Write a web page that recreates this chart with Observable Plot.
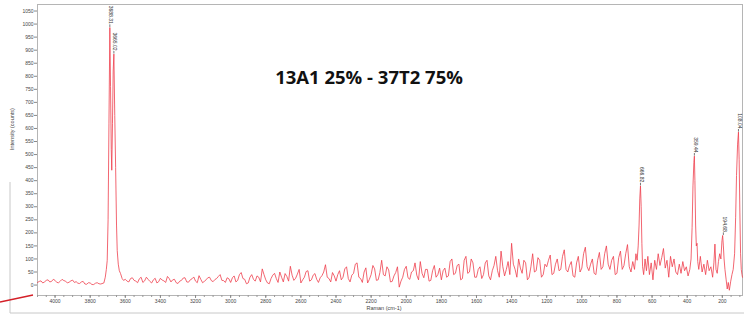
<!DOCTYPE html>
<html><head><meta charset="utf-8">
<script src="https://cdn.jsdelivr.net/npm/d3@7"></script>
<script src="https://cdn.jsdelivr.net/npm/@observablehq/plot@0.6"></script>
<style>body{margin:0;background:#fff;} #chart{position:relative;width:744px;height:320px;overflow:hidden;} svg{overflow:visible}</style>
</head><body><div id="chart"></div>
<script>
const title = "13A1 25% - 37T2 75%";
const xLabel = "Raman (cm-1)";
const yLabel = "Intensity (counts)";
const xTicks = [4000,3800,3600,3400,3200,3000,2800,2600,2400,2200,2000,1800,1600,1400,1200,1000,800,600,400,200];
const yTicks = [0,50,100,150,200,250,300,350,400,450,500,550,600,650,700,750,800,850,900,950,1000,1050];

// noisy regions sampled every 10 cm-1 from their start wavenumber
const seg1Start = 4100;
const seg1 = [10,14,16,8,12,18,20,12,14,22,18,10,9,15,22,17,15,8,11,16,19,10,13,7,6,12,14,4,3,9,8,2,2,7,9,5,4];
const ohWn  = [3722,3714,3708,3703,3698,3693,3688,3684,3680,3677,3673,3669,3665,3660,3655,3650,3646,3640,3634,3627,3618,3610];
const ohInt = [8,30,60,94,250,620,987,760,520,440,620,820,885,650,450,230,132,80,55,44,25,18];
const seg3Start = 3600;
const seg3 = [22,15,12,25,28,18,15,9,24,30,10,16,30,22,14,8,20,26,8,13,26,19,16,10,33,25,12,20,22,9,6,15,18,27,28,12,11,20,24,31,15,9,36,22,9,14,20,28,30,17,13,21,25,33,40,18,17,10,28,24];
const seg4Start = 3000;
const seg4 = [10,28,35,12,18,40,48,25,22,5,8,30,40,22,15,35,30,12,62,40,20,8,5,25,38,45,25,10,50,30,12,44,33,15,72,38,18,26,42,60,8,20,30,52,55,15,20,38,44,22,10,28,36,50,78,30,25,12,48,35];
const seg5Start = 2400;
const seg5 = [15,40,55,20,30,62,70,25,12,38,45,80,85,30,25,10,50,66,8,22,40,75,62,18,20,48,95,40,35,70,58,12,14,35,48,70,-8,15,30,60,72,28,22,50,55,85,38,20,90,45,28,60,60,15,18,55,75,30,40,65];
const seg6Start = 1800;
const seg6 = [20,55,65,30,35,90,100,40,45,75,80,20,25,95,110,45,50,100,85,30,30,60,70,25,40,85,95,35,20,55,75,110,55,30,130,70,35,60,90,40,160,80,60,30,100,65,45,95,85,20,30,70,120,50,55,105,95,30,40,80];
const seg7Start = 1200;
const seg7 = [70,95,115,40,45,80,100,55,60,110,135,60,50,75,90,35,30,85,110,50,65,120,145,70,55,80,100,45,40,95,125,60,70,120,150,80,60,95,110,40,45,105,130,60,75,120,155,70,50];
const lowWn  = [710,700,692,685,679,674,670,666,662,658,654,648,640,632,624,615,605,595,585,575,565,555,545,535,525,515,505,495,485,475,465,455,445,435,425,415,405,395,385,378,372,367,362,359,356,352,348,344,340,334,325,315,305,295,285,275,265,255,248,242,236,229,222,215,208,202,198,194,190,185,178,172,166,160,152,145,138,130,124,119,113,108,104,100,96,92,88,85];
const lowInt = [90,60,120,95,150,230,330,380,300,160,70,40,100,55,110,40,85,20,95,60,120,75,105,140,65,95,30,110,70,100,50,40,80,45,90,55,70,35,60,100,220,380,470,494,400,230,150,160,90,60,110,50,80,40,95,55,70,30,85,157,60,45,90,120,100,170,190,150,100,60,20,-15,10,-20,15,40,60,120,260,420,540,586,480,280,120,60,40,30];

const peakWn = [3688,3665,666,359,194,108];
const peakInt = [987,885,380,494,190,586];
const peakLabel = ["3688.31","3665.02","666.82","359.44","194.68","108.04"];

const step = 10;
const spectrum = [];
const addSeg = (start, vals) => vals.forEach((v, i) => spectrum.push({wn: start - i * step, v}));
addSeg(seg1Start, seg1);
ohWn.forEach((w, i) => spectrum.push({wn: w, v: ohInt[i]}));
addSeg(seg3Start, seg3);
addSeg(seg4Start, seg4);
addSeg(seg5Start, seg5);
addSeg(seg6Start, seg6);
addSeg(seg7Start, seg7);
lowWn.forEach((w, i) => spectrum.push({wn: w, v: lowInt[i]}));

const peaks = peakWn.map((w, i) => ({wn: w, v: peakInt[i], label: peakLabel[i]}));
const minorTicks = d3.range(4100, 80, -50);

const chart = Plot.plot({
  width: 744, height: 320,
  marginLeft: 37, marginRight: 2, marginTop: 4, marginBottom: 25,
  style: {fontFamily: "Liberation Sans, Arial, sans-serif", fontSize: "5px", color: "#444", background: "#fff"},
  x: {domain: [4100, 85]},
  y: {domain: [-40, 1075]},
  marks: [
    Plot.frame({stroke: "#b5b5b5"}),
    Plot.axisX({ticks: minorTicks, tickSize: 2, text: null, stroke: "#999", label: null}),
    Plot.axisX({ticks: xTicks, tickSize: 3, tickFormat: "d", tickPadding: 1, stroke: "#888", fill: "#444", label: null}),
    Plot.axisY({ticks: yTicks, tickSize: 3, tickFormat: "d", tickPadding: 1, stroke: "#888", fill: "#444", label: null}),
    Plot.line(spectrum, {x: "wn", y: "v", stroke: "#ee3d4b", strokeWidth: 0.9, strokeOpacity: 0.88}),
    Plot.ruleX(peaks, {x: "wn", y1: "v", y2: d => d.v + 10, stroke: "#555", strokeWidth: 0.8}),
    Plot.text(peaks, {x: "wn", y: d => d.v + 10, text: "label", rotate: 90, textAnchor: "end", lineAnchor: "middle", dy: -1, dx: 1, fontSize: 5, fill: "#333"}),
    Plot.text([title], {frameAnchor: "top", dx: -21, dy: 66, fontSize: 18.5, fontWeight: "bold", fontFamily: "Open Sans, sans-serif", fill: "#111", style: "letter-spacing:0.3px"}),
    Plot.text([xLabel], {frameAnchor: "bottom", dx: -6, dy: 14, fontSize: 5.5, fill: "#444"}),
    Plot.text([yLabel], {frameAnchor: "left", dx: -25, rotate: -90, fontSize: 5.5, fill: "#444"})
  ]
});
document.getElementById("chart").appendChild(chart);

const svg = d3.select(chart);
svg.append("line").attr("x1", 10).attr("x2", 10).attr("y1", 182).attr("y2", 313).attr("stroke", "#c8c8c8");
svg.append("line").attr("x1", 10).attr("x2", 744).attr("y1", 313).attr("y2", 313).attr("stroke", "#c8c8c8");
svg.append("line").attr("x1", 0).attr("x2", 33).attr("y1", 302).attr("y2", 295).attr("stroke", "#d42028").attr("stroke-width", 1.5);
</script>
</body></html>
